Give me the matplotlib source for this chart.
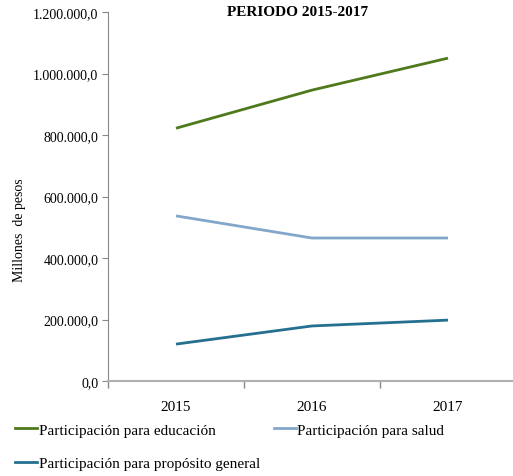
import matplotlib
matplotlib.use("Agg")
import matplotlib.pyplot as plt
from matplotlib.lines import Line2D
from matplotlib.ticker import FuncFormatter, FixedLocator

years = ["2015", "2016", "2017"]
educacion = [822000, 946000, 1050000]
salud = [537000, 465000, 465000]
general = [120000, 179000, 198000]
series_names = ["Participación para educación", "Participación para salud",
                "Participación para propósito general"]
colors = ["#4E7A1C", "#82A7CA", "#24708F"]

plt.rcParams['font.family'] = ['Liberation Serif', 'DejaVu Serif']

fig = plt.figure(figsize=(5.13, 4.77), dpi=100)
ax = fig.add_axes([108/513, 1-382/477, 405/513, (382-13)/477])

x = list(range(len(years)))
for vals, c in zip([educacion, salud, general], colors):
    ax.plot(x, vals, color=c, lw=2.0, solid_capstyle='butt')

ax.set_xlim(-0.5, -0.5 + 405/136)
ax.set_ylim(0, 1200000)
ax.set_yticks(range(0, 1200001, 200000))
ax.yaxis.set_major_formatter(FuncFormatter(
    lambda v, p: f"{int(v):,}".replace(",", ".") + ",0"))
ax.set_xticks(x)
ax.set_xticklabels(years)
ax.xaxis.set_major_locator(FixedLocator(x))
ax.tick_params(axis='x', which='major', length=0, labelsize=11, pad=14)
ax.set_xticks([-0.5, 0.5, 1.5], minor=True)
ax.tick_params(axis='x', which='minor', length=5, color='#888888', width=1)
ax.tick_params(axis='y', length=4, color='#888888', labelsize=10, pad=3)

for s in ['top', 'right']:
    ax.spines[s].set_visible(False)
ax.spines['left'].set_color('#888888')
ax.spines['bottom'].set_color('#b0b0b0')
ax.spines['bottom'].set_linewidth(1.5)

fig.text(298/513, 1-12/477, "PERIODO 2015-2017", ha='center', va='center',
         fontsize=11, fontweight='bold')
fig.text(20/513, 1-230/477, "Millones  de pesos", rotation=90, ha='center',
         va='center', fontsize=10)

# order for column-wise fill: educ, general (col 1), salud (col 2)
order = [0, 2, 1]
handles = [Line2D([0], [0], color=colors[i], lw=2.0) for i in order]
labels = [series_names[i] for i in order]
leg = fig.legend(handles, labels, loc='upper left',
                 bbox_to_anchor=(9/513, 1-418/477), ncol=2, frameon=False,
                 fontsize=11, handlelength=1.45, handletextpad=0.1,
                 columnspacing=0.9, labelspacing=1.3, borderaxespad=0)

fig.savefig("out.png", dpi=100)
